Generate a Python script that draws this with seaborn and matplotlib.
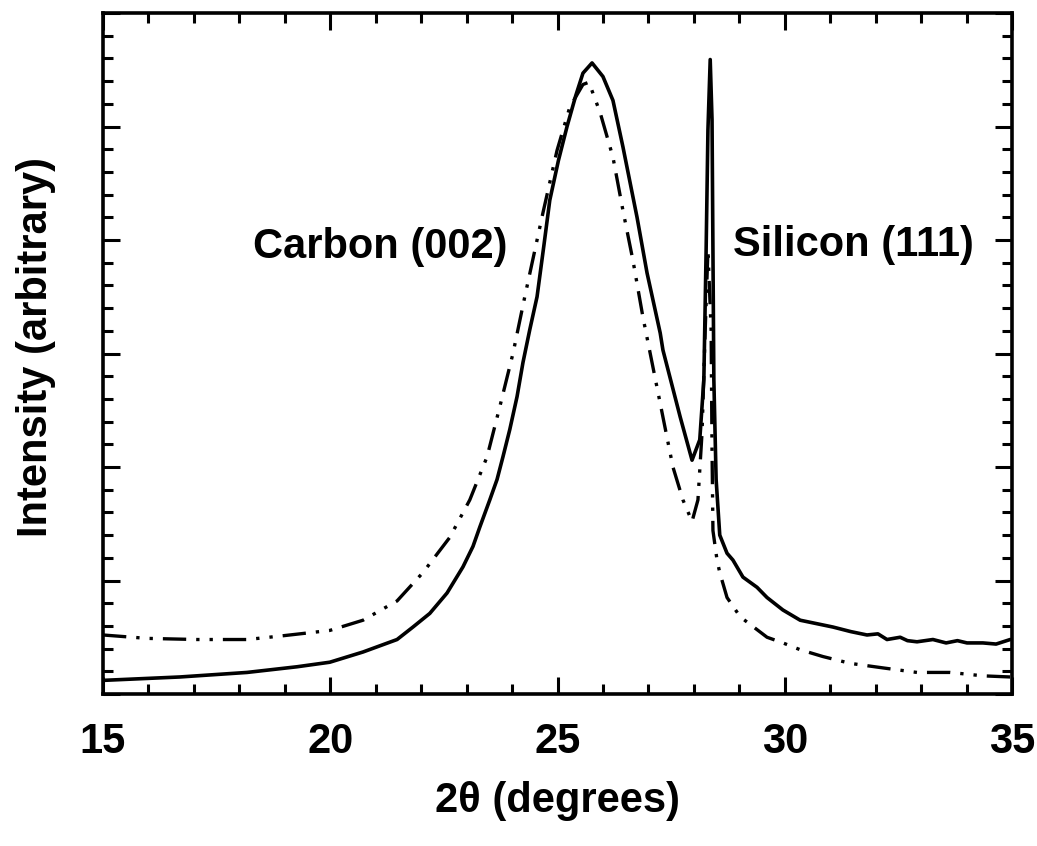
import numpy as np
import pandas as pd
import matplotlib
matplotlib.use("Agg")
import matplotlib.pyplot as plt
import seaborn as sns
from matplotlib.ticker import MultipleLocator

# ---- data ----
solid_x = [15.00, 16.69, 18.17, 19.27, 19.99, 20.72, 21.47, 21.82, 22.19, 22.57,
           22.92, 23.14, 23.29, 23.51, 23.67, 23.80, 23.95, 24.11, 24.24, 24.39,
           24.55, 24.70, 24.83, 25.02, 25.21, 25.40, 25.56, 25.76, 26.00, 26.22,
           26.44, 26.60, 26.75, 26.97, 27.26, 27.32, 27.70, 27.96, 28.13, 28.22,
           28.27, 28.31, 28.36, 28.40, 28.42, 28.44, 28.49, 28.57, 28.73, 28.86,
           29.08, 29.39, 29.61, 29.96, 30.34, 30.70, 31.06, 31.45, 31.81, 32.05,
           32.25, 32.54, 32.70, 32.91, 33.26, 33.55, 33.80, 34.01, 34.36, 34.65, 34.96]
solid_y = [0.12, 0.15, 0.19, 0.24, 0.28, 0.37, 0.48, 0.59, 0.71, 0.89,
           1.12, 1.30, 1.47, 1.71, 1.89, 2.09, 2.33, 2.62, 2.92, 3.21,
           3.50, 3.95, 4.35, 4.70, 5.00, 5.27, 5.47, 5.56, 5.44, 5.23,
           4.82, 4.50, 4.20, 3.71, 3.18, 3.03, 2.44, 2.06, 2.24, 2.77,
           3.91, 4.97, 5.59, 5.06, 3.91, 2.77, 1.89, 1.40, 1.24, 1.18,
           1.03, 0.94, 0.85, 0.74, 0.65, 0.62, 0.59, 0.55, 0.52, 0.53,
           0.48, 0.50, 0.47, 0.46, 0.48, 0.45, 0.47, 0.45, 0.45, 0.44, 0.48]

dash_x = [15.00, 15.97, 17.07, 18.17, 18.89, 19.99, 20.72, 21.47, 22.04, 22.63,
          23.07, 23.45, 23.73, 24.02, 24.28, 24.68, 24.99, 25.27, 25.56, 25.69,
          25.94, 26.22, 26.44, 26.66, 26.88, 27.10, 27.32, 27.54, 27.76, 27.96,
          28.09, 28.18, 28.25, 28.31, 28.38, 28.40, 28.42, 28.51, 28.57, 28.73,
          29.02, 29.61, 29.96, 30.34, 30.84, 31.44, 32.16, 32.91, 33.64, 34.36, 34.96]
dash_y = [0.52, 0.49, 0.48, 0.48, 0.51, 0.56, 0.65, 0.82, 1.07, 1.38,
          1.71, 2.09, 2.53, 3.00, 3.50, 4.24, 4.79, 5.17, 5.37, 5.39,
          5.12, 4.73, 4.26, 3.82, 3.32, 2.88, 2.44, 2.00, 1.71, 1.52,
          1.71, 2.30, 3.21, 3.91, 3.21, 2.15, 1.44, 1.18, 1.07, 0.85,
          0.68, 0.50, 0.45, 0.39, 0.33, 0.27, 0.23, 0.19, 0.19, 0.16, 0.15]

x_ticks = [15, 20, 25, 30, 35]
labels = ["Carbon (002)", "Silicon (111)"]

# ---- styling ----
sns.set_style("ticks")
plt.rcParams['font.family'] = ['Liberation Sans', 'DejaVu Sans']
plt.rcParams['font.weight'] = 'bold'
plt.rcParams['text.color'] = 'black'
plt.rcParams['axes.labelcolor'] = 'black'
plt.rcParams['xtick.color'] = 'black'
plt.rcParams['ytick.color'] = 'black'
plt.rcParams['axes.edgecolor'] = 'black'

fig = plt.figure(figsize=(10.37, 8.46), dpi=100)
ax = fig.add_axes([103/1037, 1 - 694/846, (1012-103)/1037, (694-13)/846])

df_s = pd.DataFrame({"x": solid_x, "y": solid_y})
df_d = pd.DataFrame({"x": dash_x, "y": dash_y})

sns.lineplot(data=df_s, x="x", y="y", ax=ax, color="black", linewidth=2.6,
             estimator=None, sort=False)
sns.lineplot(data=df_d, x="x", y="y", ax=ax, color="black", linewidth=2.4,
             estimator=None, sort=False, linestyle=(0, (7, 3, 1, 3, 1, 3)))

ax.set_xlim(15, 35)
ax.set_ylim(0, 6)
ax.set_xticks(x_ticks)
ax.set_xticklabels([str(t) for t in x_ticks])
ax.xaxis.set_minor_locator(MultipleLocator(1))
ax.yaxis.set_major_locator(MultipleLocator(1))
ax.yaxis.set_minor_locator(MultipleLocator(0.2))
ax.set_yticklabels([])

ax.tick_params(which="both", direction="in", top=True, right=True,
               color="black", width=2.2)
ax.tick_params(which="major", length=12, labelsize=30, pad=20)
ax.tick_params(which="minor", length=7)
for lab in ax.get_xticklabels():
    lab.set_fontweight("bold")
    lab.set_color("black")

for s in ax.spines.values():
    s.set_linewidth(2.6)
    s.set_color("black")

ax.set_xlabel("2θ (degrees)", fontsize=30, fontweight="bold", color="black")
ax.xaxis.set_label_coords(0.5, -0.128)
ax.set_ylabel("Intensity (arbitrary)", fontsize=30, fontweight="bold", color="black")
ax.yaxis.set_label_coords(-0.052, 0.51)

ax.text(21.09, 3.94, labels[0], fontsize=30, fontweight="bold",
        ha="center", va="center", color="black")
ax.text(31.52, 3.96, labels[1], fontsize=30, fontweight="bold",
        ha="center", va="center", color="black")

fig.savefig("out.png", dpi=100, facecolor="white")
